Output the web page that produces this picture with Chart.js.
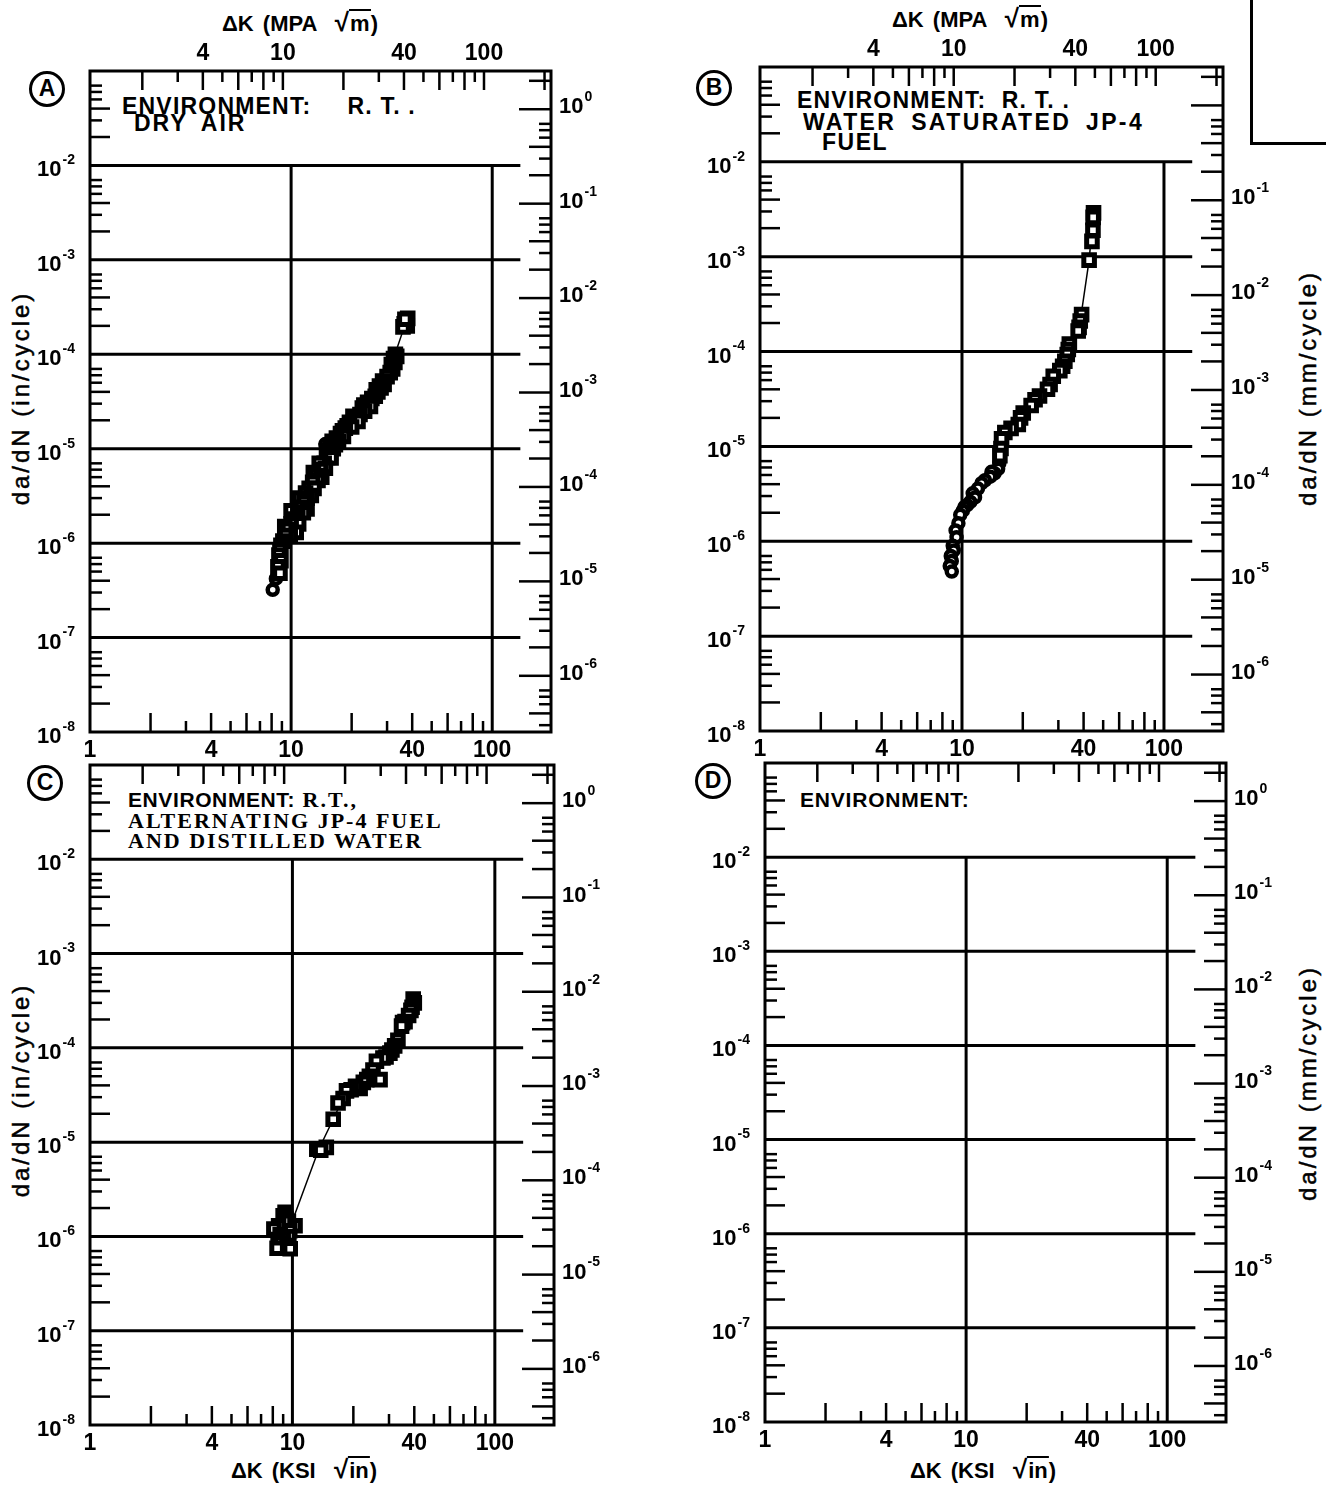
<!DOCTYPE html>
<html>
<head>
<meta charset="utf-8">
<script src="https://cdn.jsdelivr.net/npm/chart.js@4.4.1/dist/chart.umd.min.js"></script>
<style>
  html, body { margin: 0; padding: 0; background: #fff; }
  #page { position: relative; width: 1326px; height: 1488px; overflow: hidden; background: #fff; }
  #page canvas { position: absolute; left: 0; top: 0; }
  .txt { position: absolute; color: #000; white-space: nowrap; line-height: 1; }
  .sans { font-family: "Liberation Sans", Arial, sans-serif; font-weight: bold; }
  .mono { font-family: "Liberation Serif", "Times New Roman", serif; font-weight: bold; }
  .circ { position: absolute; box-sizing: border-box; width: 36px; height: 36px; border: 3.5px solid #000;
          border-radius: 50%; font: bold 23px "Liberation Sans", Arial, sans-serif; text-align: center; line-height: 29px; }
  .ctr { transform: translate(-50%, -50%); }
  .rot { transform: translate(-50%, -50%) rotate(-90deg); }
  .ovl { border-top: 2px solid #000; padding: 0 1px; }
  .rad { font-size: 26px; }
  .axt { font-family: "Liberation Sans", Arial, sans-serif; font-weight: bold; font-size: 22px; word-spacing: 3px; }
  .yt { font-family: "Liberation Sans", Arial, sans-serif; font-size: 24px; letter-spacing: 3px; -webkit-text-stroke: 0.5px #000; }
  .frag { position: absolute; left: 1250px; top: -6px; width: 90px; height: 148px; border-left: 3px solid #000; border-bottom: 3px solid #000; }
</style>
</head>
<body>
<div id="page">
  <div class="frag"></div>

  <!-- panel markers -->
  <div class="circ" style="left:29px;top:71px;">A</div>
  <div class="circ" style="left:696px;top:70px;">B</div>
  <div class="circ" style="left:27px;top:765px;">C</div>
  <div class="circ" style="left:695px;top:763px;">D</div>

  <!-- axis titles -->
  <div class="txt axt ctr" style="left:300px;top:22px;">ΔK (MPA &nbsp;<span class="rad">√</span><span class="ovl">m</span>)</div>
  <div class="txt axt ctr" style="left:970px;top:18px;">ΔK (MPA &nbsp;<span class="rad">√</span><span class="ovl">m</span>)</div>
  <div class="txt axt ctr" style="left:304px;top:1469px;">ΔK (KSI &nbsp;<span class="rad">√</span><span class="ovl">in</span>)</div>
  <div class="txt axt ctr" style="left:983px;top:1469px;">ΔK (KSI &nbsp;<span class="rad">√</span><span class="ovl">in</span>)</div>
  <div class="txt yt rot" style="left:21px;top:398px;">da/dN (in/cycle)</div>
  <div class="txt yt rot" style="left:21px;top:1090px;">da/dN (in/cycle)</div>
  <div class="txt yt rot" style="left:1308px;top:388px;">da/dN (mm/cycle)</div>
  <div class="txt yt rot" style="left:1308px;top:1083px;">da/dN (mm/cycle)</div>

  <!-- environment notes -->
  <div class="txt sans" style="left:122px;top:95px;font-size:23px;letter-spacing:1.2px;">ENVIRONMENT:<span style="margin-left:36px;">R. T. .</span></div>
  <div class="txt sans" style="left:134px;top:112px;font-size:23px;letter-spacing:2px;word-spacing:6px;">DRY AIR</div>

  <div class="txt sans" style="left:797px;top:89px;font-size:23px;letter-spacing:1.2px;">ENVIRONMENT: &nbsp;R. T. .</div>
  <div class="txt sans" style="left:803px;top:111px;font-size:23px;letter-spacing:2.4px;word-spacing:6px;">WATER SATURATED JP-4</div>
  <div class="txt sans" style="left:822px;top:131px;font-size:23px;letter-spacing:1.5px;">FUEL</div>

  <div class="txt" style="left:128px;top:789px;"><span class="sans" style="font-size:21px;letter-spacing:0.6px;">ENVIRONMENT:</span><span class="mono" style="font-size:22px;letter-spacing:2px;"> R.T.,</span></div>
  <div class="txt mono" style="left:128px;top:810px;font-size:22px;letter-spacing:2px;">ALTERNATING JP-4 FUEL</div>
  <div class="txt mono" style="left:128px;top:830px;font-size:22px;letter-spacing:2px;">AND DISTILLED WATER</div>

  <div class="txt sans" style="left:800px;top:789px;font-size:21px;letter-spacing:0.8px;">ENVIRONMENT:</div>
</div>

<script>
// ---- axis ticks ----
const ksiTicks = [1, 4, 10, 40, 100];                 // ΔK, ksi·√in (bottom)
const mpaTicks = [4, 10, 40, 100];                     // ΔK, MPa·√m (top)
const inRateTicks = [1e-8, 1e-7, 1e-6, 1e-5, 1e-4, 1e-3, 1e-2];   // da/dN, in/cycle (left)
const mmRateTicks = [1e0, 1e-1, 1e-2, 1e-3, 1e-4, 1e-5, 1e-6];    // da/dN, mm/cycle (right)

// ---- (A) room temperature, dry air : [ΔK ksi√in, da/dN in/cycle] ----
const dryAirSquares = [
  [37.5, 2.3e-4], [36.5, 2.1e-4], [37.8, 2.0e-4], [36.0, 1.95e-4], [38.0, 2.4e-4], [36.8, 2.35e-4],
  [33.0, 1.0e-4], [33.5, 9.5e-5], [32.3, 9.0e-5], [32.8, 8.2e-5], [31.5, 7.8e-5], [32.0, 7.0e-5], [31.1, 6.4e-5],
  [30.0, 5.8e-5], [28.5, 5.2e-5], [29.0, 4.8e-5], [27.5, 4.6e-5], [28.0, 4.4e-5], [26.5, 4.2e-5],
  [27.0, 4.0e-5], [26.2, 3.6e-5], [25.2, 3.4e-5],
  [24.0, 3.1e-5], [23.0, 2.9e-5], [24.8, 2.8e-5], [22.6, 2.7e-5], [23.2, 2.5e-5], [22.0, 2.3e-5],
  [20.3, 2.2e-5], [21.0, 2.1e-5], [21.5, 1.95e-5],
  [19.5, 1.9e-5], [19.0, 1.75e-5], [20.0, 1.7e-5], [18.6, 1.65e-5], [18.0, 1.55e-5], [17.6, 1.45e-5],
  [18.2, 1.35e-5], [16.8, 1.3e-5], [16.0, 1.2e-5], [17.2, 1.2e-5],
  [16.6, 1.1e-5], [16.2, 1.0e-5], [15.0, 9.5e-6], [15.7, 9.0e-6], [15.2, 8.1e-6], [15.8, 8.0e-6],
  [14.6, 7.0e-6], [13.8, 7.0e-6], [14.8, 6.2e-6],
  [14.0, 6.0e-6], [12.9, 5.6e-6], [13.4, 5.2e-6], [14.2, 5.0e-6], [13.6, 4.6e-6], [12.8, 4.4e-6],
  [12.3, 3.8e-6], [13.0, 3.8e-6], [11.8, 3.4e-6], [12.6, 3.2e-6],
  [12.0, 3.0e-6], [11.0, 3.0e-6], [11.6, 2.7e-6], [11.1, 2.4e-6], [12.0, 2.3e-6], [10.0, 2.2e-6],
  [11.5, 2.1e-6], [10.8, 2.0e-6],
  [10.3, 1.8e-6], [10.9, 1.6e-6], [10.0, 1.6e-6], [9.3, 1.5e-6], [9.7, 1.4e-6], [10.6, 1.3e-6],
  [9.9, 1.2e-6], [9.4, 1.2e-6],
  [9.1, 1.05e-6], [8.9, 9.5e-7], [8.8, 8.5e-7], [8.7, 7.5e-7], [8.9, 6.5e-7],
  [8.6, 5.6e-7], [8.8, 4.8e-7]
];
const dryAirCircles = [[14.8, 1.12e-5], [15.5, 1.15e-5], [8.4, 4.2e-7], [8.1, 3.2e-7]];
const dryAirFit = [
  [8.4, 4.2e-7], [9.0, 1.0e-6], [10.5, 1.8e-6], [12.5, 3.5e-6], [15.0, 8.0e-6],
  [18.0, 1.5e-5], [22.0, 2.5e-5], [27.0, 4.3e-5], [32.0, 8.5e-5], [37.5, 2.3e-4]
];

// ---- (B) room temperature, water saturated JP-4 fuel ----
const jp4Squares = [
  [44.8, 2.9e-3], [44.6, 2.6e-3], [44.5, 1.9e-3], [44.0, 1.45e-3], [42.6, 9.2e-4],
  [39.1, 2.45e-4], [38.5, 2.1e-4], [38.0, 1.8e-4], [37.6, 1.65e-4], [34.0, 1.2e-4], [33.6, 1.05e-4],
  [33.2, 9.3e-5], [32.3, 7.9e-5], [31.5, 7.0e-5], [30.5, 6.3e-5], [28.3, 5.5e-5], [27.3, 4.5e-5],
  [26.5, 4.0e-5], [24.2, 3.4e-5], [23.0, 3.1e-5], [22.0, 2.7e-5], [20.1, 2.25e-5], [19.5, 2.0e-5],
  [19.0, 1.7e-5], [17.5, 1.55e-5], [16.3, 1.4e-5], [15.7, 1.2e-5], [15.6, 9.5e-6], [15.4, 8.0e-6]
];
const jp4Circles = [
  [15.3, 6.6e-6], [15.1, 5.8e-6], [14.5, 5.2e-6], [14.0, 5.4e-6], [13.8, 4.8e-6], [13.0, 4.4e-6],
  [12.5, 4.1e-6], [12.0, 3.6e-6], [11.3, 3.2e-6],
  [11.6, 2.9e-6], [11.0, 2.6e-6], [10.6, 2.4e-6], [10.3, 2.3e-6], [10.1, 2.1e-6], [9.8, 1.9e-6],
  [9.6, 1.55e-6], [9.3, 1.3e-6], [9.4, 1.1e-6], [9.0, 9.0e-7], [9.1, 8.0e-7],
  [8.8, 7.0e-7], [8.9, 6.2e-7], [8.7, 5.5e-7], [8.9, 4.8e-7]
];
const jp4Fit = [
  [8.9, 4.8e-7], [9.3, 1.2e-6], [10.5, 2.3e-6], [13.0, 4.4e-6], [15.2, 6.0e-6],
  [15.8, 1.2e-5], [19.5, 2.0e-5], [27.0, 4.4e-5], [33.0, 1.0e-4], [38.5, 2.1e-4],
  [42.6, 9.2e-4], [44.6, 2.7e-3]
];

// ---- (C) room temperature, alternating JP-4 fuel and distilled water ----
const altSquares = [
  [39.5, 3.3e-4], [40.0, 3.0e-4], [39.0, 2.7e-4], [38.5, 2.5e-4], [37.5, 2.2e-4], [36.0, 1.9e-4],
  [35.0, 1.85e-4], [34.6, 1.7e-4], [33.2, 1.2e-4], [32.0, 1.05e-4], [31.0, 9.5e-5], [30.3, 8.8e-5],
  [29.0, 8.0e-5], [28.0, 7.8e-5], [26.0, 7.2e-5], [25.0, 5.8e-5], [27.1, 4.6e-5], [24.0, 5.0e-5],
  [23.3, 4.6e-5], [22.4, 4.3e-5], [21.6, 3.7e-5], [20.5, 3.9e-5], [19.5, 3.6e-5], [18.5, 3.5e-5],
  [17.8, 2.9e-5], [16.8, 2.6e-5], [15.9, 1.75e-5],
  [14.7, 8.8e-6], [13.2, 8.4e-6], [13.8, 8.2e-6], [9.2, 1.8e-6], [9.0, 1.65e-6], [9.3, 1.55e-6],
  [9.55, 1.45e-6], [8.55, 1.3e-6], [8.1, 1.2e-6], [10.3, 1.3e-6], [9.7, 1.15e-6], [8.7, 1.05e-6],
  [9.6, 1.0e-6], [9.0, 9.5e-7], [8.5, 9.0e-7], [8.8, 8.5e-7], [9.4, 8.0e-7], [8.4, 7.5e-7], [9.75, 7.4e-7]
];
const altFit = [
  [8.6, 8.0e-7], [9.8, 1.3e-6], [13.5, 8.4e-6], [15.9, 1.75e-5], [17.8, 2.9e-5],
  [22.0, 4.2e-5], [26.0, 6.5e-5], [33.0, 1.2e-4], [39.5, 3.2e-4]
];

// ---- unit conversions between the paired axes ----
const KSI_TO_MPA = 1.0988;   // 1 ksi·√in = 1.0988 MPa·√m
const IN_TO_MM = 25.4;

const W = 1326, H = 1488;
const X_MAX = 196;           // ksi√in at right frame edge
const GRID_X_END = 138;      // horizontal rules stop short of the right frame

// plot frames in page pixels
const panels = [
  { box: { l: 90,  r: 551,  t: 71,  b: 732 },  topLabels: true,  mmLabelsFrom: 0, squares: dryAirSquares, circles: dryAirCircles, fit: dryAirFit },
  { box: { l: 760, r: 1223, t: 67,  b: 731 },  topLabels: true,  mmLabelsFrom: 1, squares: jp4Squares,    circles: jp4Circles,    fit: jp4Fit },
  { box: { l: 90,  r: 554,  t: 765, b: 1425 }, topLabels: false, mmLabelsFrom: 0, squares: altSquares,    circles: [],            fit: altFit },
  { box: { l: 765, r: 1226, t: 763, b: 1422 }, topLabels: false, mmLabelsFrom: 0, squares: [],            circles: [],            fit: [] }
];

const FAMILY = '"Liberation Sans", Arial, sans-serif';
const TICK_FONT = { family: FAMILY, size: 23, weight: 'bold' };
const POW_BASE = 'bold 22px ' + FAMILY;
const POW_EXP = 'bold 14px ' + FAMILY;
const asTicks = vals => vals.map(v => ({ value: v }));

// "10" with a raised exponent, anchored on its left or right edge
function drawPow(ctx, v, xAnchor, py, align) {
  const e = String(Math.round(Math.log10(v)));
  ctx.font = POW_BASE; const wb = ctx.measureText('10').width;
  ctx.font = POW_EXP; const we = ctx.measureText(e).width;
  const x0 = align === 'right' ? xAnchor - wb - we - 1 : xAnchor;
  ctx.textAlign = 'left';
  ctx.textBaseline = 'middle';
  ctx.font = POW_BASE; ctx.fillText('10', x0, py);
  ctx.font = POW_EXP; ctx.fillText(e, x0 + wb + 1, py - 10);
}

// frame, rules, inward tick marks and power-of-ten labels, all placed through the chart's scales
const framePlugin = {
  id: 'logFrame',
  beforeDatasetsDraw(chart, args, opts) {
    const { ctx, chartArea: a } = chart;
    const { x, x2, y, y2 } = chart.scales;
    const seg = (x0, y0, x1, y1) => { ctx.beginPath(); ctx.moveTo(x0, y0); ctx.lineTo(x1, y1); ctx.stroke(); };
    ctx.save();
    ctx.strokeStyle = '#000';
    ctx.fillStyle = '#000';
    ctx.lineCap = 'butt';

    // decade rules
    ctx.lineWidth = 3;
    const gx = x.getPixelForValue(GRID_X_END);
    inRateTicks.slice(1).forEach(v => { const py = y.getPixelForValue(v); seg(a.left, py, gx, py); });
    const gTop = y.getPixelForValue(1e-2);
    [10, 100].forEach(v => { const px = x.getPixelForValue(v); seg(px, gTop, px, a.bottom); });

    ctx.lineWidth = 2.5;
    // bottom ticks (ksi)
    [1, 10, 100].forEach(d => {
      for (let k = 2; k <= 9; k++) {
        const v = k * d;
        if (v >= x.max) continue;
        const px = x.getPixelForValue(v);
        seg(px, a.bottom, px, a.bottom - (k % 2 === 0 ? 19 : 11));
      }
    });
    // top ticks (MPa)
    [1, 10, 100].forEach(d => {
      for (let k = 1; k <= 9; k++) {
        const v = k * d;
        if (v <= x2.min || v >= x2.max) continue;
        const px = x2.getPixelForValue(v);
        seg(px, a.top, px, a.top + (k === 1 || k % 2 === 0 ? 19 : 11));
      }
    });
    // left ticks (in/cycle)
    for (let n = -8; n <= -2; n++) {
      for (let k = 2; k <= 7; k++) {
        const v = k * Math.pow(10, n);
        if (v >= y.max) continue;
        const py = y.getPixelForValue(v);
        seg(a.left, py, a.left + (k === 2 || k === 4 ? 20 : 12), py);
      }
    }
    // right ticks (mm/cycle)
    for (let n = -7; n <= 0; n++) {
      for (let k = 1; k <= 7; k++) {
        const v = k * Math.pow(10, n);
        if (v <= y2.min || v >= y2.max) continue;
        const py = y2.getPixelForValue(v);
        seg(a.right, py, a.right - (k === 1 ? 32 : (k === 2 || k === 4 ? 22 : 12)), py);
      }
    }

    // frame
    ctx.lineWidth = 3;
    ctx.strokeRect(a.left, a.top, a.right - a.left, a.bottom - a.top);

    // power-of-ten labels
    inRateTicks.forEach(v => drawPow(ctx, v, a.left - 15, y.getPixelForValue(v) + 5, 'right'));
    mmRateTicks.slice(opts.mmLabelsFrom).forEach(v => drawPow(ctx, v, a.right + 8, y2.getPixelForValue(v) - 2, 'left'));
    ctx.restore();
  }
};

const page = document.getElementById('page');
const toXY = arr => arr.map(([px, py]) => ({ x: px, y: py }));

panels.forEach(p => {
  const cv = document.createElement('canvas');
  cv.width = W; cv.height = H;
  page.appendChild(cv);
  const b = p.box;

  const datasets = [];
  if (p.squares.length) datasets.push({
    data: toXY(p.squares), pointStyle: 'rect', pointRadius: 7.5, borderWidth: 5,
    borderColor: '#000', backgroundColor: '#fff', showLine: false
  });
  if (p.circles.length) datasets.push({
    data: toXY(p.circles), pointStyle: 'circle', pointRadius: 5, borderWidth: 4.5,
    borderColor: '#000', backgroundColor: '#fff', showLine: false
  });
  if (p.fit.length) datasets.push({
    data: toXY(p.fit), showLine: true, borderColor: '#000', borderWidth: 1.5,
    pointRadius: 0, tension: 0, fill: false
  });

  const common = {
    grid: { display: false, drawTicks: false },
    border: { display: false }
  };

  new Chart(cv, {
    type: 'scatter',
    data: { datasets },
    options: {
      responsive: false,
      animation: false,
      devicePixelRatio: 1,
      layout: { padding: 0 },
      plugins: {
        legend: { display: false },
        tooltip: { enabled: false },
        logFrame: { mmLabelsFrom: p.mmLabelsFrom }
      },
      scales: {
        x: {
          ...common, type: 'logarithmic', position: 'bottom', min: 1, max: X_MAX,
          afterBuildTicks: s => { s.ticks = asTicks(ksiTicks); },
          afterFit: s => { s.height = H - b.b; },
          ticks: { autoSkip: false, maxRotation: 0, minRotation: 0, padding: 5, color: '#000', font: TICK_FONT,
                   callback: v => String(v) }
        },
        x2: {
          ...common, type: 'logarithmic', axis: 'x', position: 'top',
          min: KSI_TO_MPA, max: X_MAX * KSI_TO_MPA,
          afterBuildTicks: s => { s.ticks = asTicks(p.topLabels ? mpaTicks : []); },
          afterFit: s => { s.height = b.t; },
          ticks: { display: p.topLabels, autoSkip: false, maxRotation: 0, minRotation: 0, padding: 4, color: '#000',
                   font: TICK_FONT, callback: v => String(v) }
        },
        y: {
          ...common, type: 'logarithmic', position: 'left', min: 1e-8, max: 1e-1,
          afterBuildTicks: s => { s.ticks = asTicks(inRateTicks); },
          afterFit: s => { s.width = b.l; },
          ticks: { display: false }
        },
        y2: {
          ...common, type: 'logarithmic', axis: 'y', position: 'right',
          min: 1e-8 * IN_TO_MM, max: 1e-1 * IN_TO_MM,
          afterBuildTicks: s => { s.ticks = asTicks(mmRateTicks); },
          afterFit: s => { s.width = W - b.r; },
          ticks: { display: false }
        }
      }
    },
    plugins: [framePlugin]
  });
});
</script>
</body>
</html>
